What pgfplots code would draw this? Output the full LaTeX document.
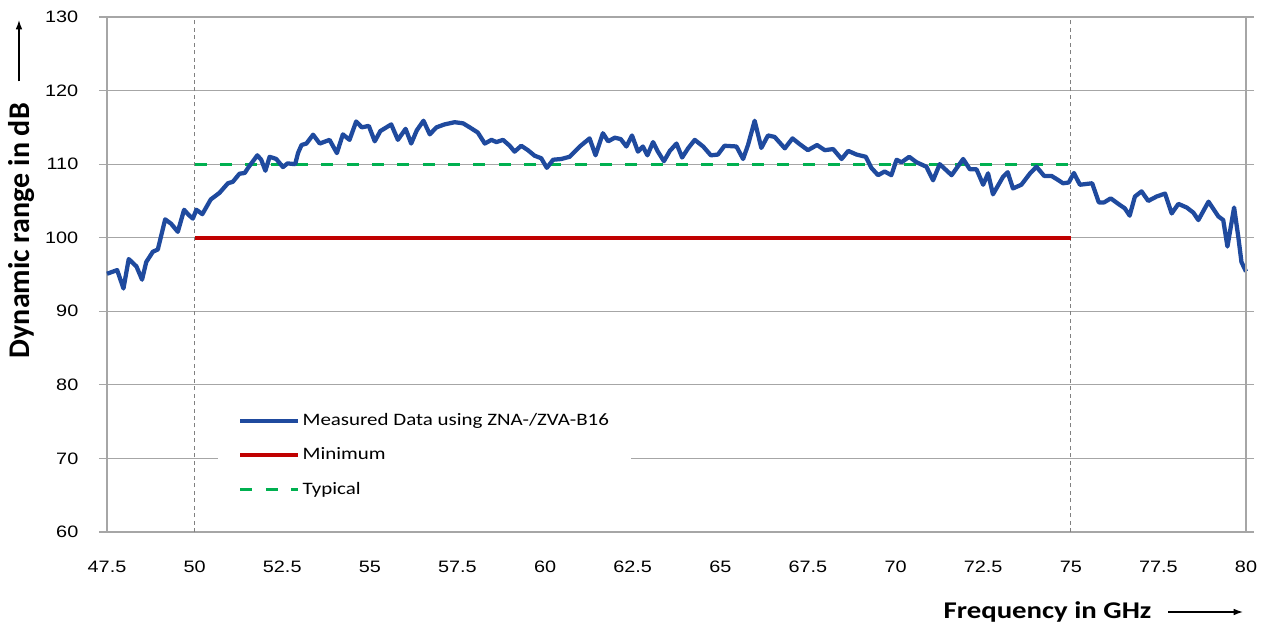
\documentclass[border=0pt]{standalone}
\usepackage{fontspec}
\setmainfont{Liberation Sans}[FakeStretch=1.2]
\newfontfamily\calibri{Carlito}[FakeStretch=1.2]
\newfontfamily\calibriv{Carlito}
\usepackage{pgfplots}
\pgfplotsset{compat=1.18}
\usetikzlibrary{arrows.meta}

\definecolor{measblue}{RGB}{31,74,158}
\definecolor{minred}{RGB}{192,0,0}
\definecolor{typgreen}{RGB}{0,176,80}
\definecolor{gridgray}{RGB}{166,166,166}
\definecolor{markgray}{RGB}{128,128,128}

\begin{document}
\begin{tikzpicture}
  % frame of the whole picture: 1px = 0.75pt, axis box at (107..1246, 17..532)
  \useasboundingbox (-80.25pt,-75pt) rectangle (869.25pt,399pt);
  \begin{axis}[
      scale only axis,
      width=854.25pt,
      height=386.25pt,
      xmin=47.5, xmax=80,
      ymin=60, ymax=130,
      xtick={47.5,50,52.5,55,57.5,60,62.5,65,67.5,70,72.5,75,77.5,80},
      ytick={60,70,80,90,100,110,120,130},
      /pgf/number format/assume math mode=true,
      ticklabel style={font=\fontsize{12.4}{14}\selectfont, text=black},
      xticklabel style={yshift=-12pt},
      yticklabel style={xshift=-12pt},
      tick align=outside,
      major tick length=6pt,
      tick style={gridgray, line width=0.9pt},
      xtick style={draw=none},
      axis line style={gridgray, line width=1pt},
      ymajorgrids,
      grid style={gridgray, line width=0.9pt},
      clip=false,
      legend style={at={(axis description cs:0.0975,0.042)}, anchor=south west,
        draw=none, fill=white, inner xsep=15pt, inner ysep=9pt,
        row sep=12pt, font=\calibri\fontsize{13.1}{15}\selectfont,
        nodes={inner sep=1.5pt}},
      legend cell align=left,
      legend image code/.code={\draw[#1] (0pt,0pt) -- (43.5pt,0pt);},
    ]
    \addlegendimage{measblue, line width=3.2pt}
    \addlegendentry{Measured Data using ZNA-/ZVA-B16}

    % band edges
    \addplot[markgray, line width=0.8pt, dash pattern=on 3pt off 2.6pt, forget plot]
      coordinates {(50,60) (50,130)};
    \addplot[markgray, line width=0.8pt, dash pattern=on 3pt off 2.6pt, forget plot]
      coordinates {(75,60) (75,130)};

    \addplot[minred, line width=3.2pt] coordinates {(50,100) (75,100)};
    \addlegendentry{Minimum}

    \addplot[typgreen, line width=2.25pt, dash pattern=on 9pt off 10pt]
      coordinates {(50,110) (75,110)};
    \addlegendentry{Typical}

    \addplot[measblue, line width=3.2pt, line join=round, forget plot] coordinates {
      (47.50,95.1) (47.79,95.6) (47.97,93.1) (48.12,97.1) (48.34,96.1)
      (48.50,94.3) (48.62,96.7) (48.81,98.1) (48.95,98.4) (49.16,102.5)
      (49.33,101.9) (49.52,100.8) (49.70,103.8) (49.83,103.1) (49.95,102.6)
      (50.05,103.8) (50.22,103.2) (50.46,105.2) (50.71,106.1) (50.95,107.4)
      (51.09,107.6) (51.28,108.7) (51.43,108.8) (51.54,109.6) (51.79,111.2)
      (51.90,110.6) (52.02,109.1) (52.14,111.0) (52.33,110.7) (52.52,109.6)
      (52.65,110.1) (52.87,110.0) (52.95,111.5) (53.05,112.6) (53.19,112.8)
      (53.38,114.0) (53.57,112.8) (53.85,113.3) (54.06,111.5) (54.23,114.05)
      (54.42,113.3) (54.61,115.8) (54.77,115.0) (54.97,115.2) (55.14,113.1)
      (55.30,114.5) (55.61,115.4) (55.80,113.3) (56.02,114.8) (56.18,112.8)
      (56.34,114.6) (56.53,115.9) (56.71,114.05) (56.90,115.0) (57.13,115.4)
      (57.42,115.7) (57.66,115.55) (57.85,115.0) (58.08,114.3) (58.28,112.8)
      (58.47,113.3) (58.61,113.0) (58.80,113.3) (58.99,112.5) (59.13,111.7)
      (59.32,112.5) (59.51,111.9) (59.70,111.15) (59.89,110.8) (60.05,109.5)
      (60.23,110.6) (60.46,110.7) (60.70,111.0) (60.99,112.4) (61.27,113.5)
      (61.44,111.2) (61.65,114.2) (61.80,113.1) (61.99,113.6) (62.16,113.4)
      (62.32,112.4) (62.48,113.9) (62.65,111.7) (62.79,112.4) (62.92,111.2)
      (63.08,113.0) (63.22,111.7) (63.39,110.4) (63.56,111.8) (63.75,112.8)
      (63.91,110.9) (64.08,112.15) (64.27,113.3) (64.51,112.4) (64.73,111.2)
      (64.93,111.3) (65.12,112.5) (65.46,112.4) (65.65,110.7) (65.79,112.6)
      (65.98,115.9) (66.17,112.2) (66.36,113.9) (66.55,113.7) (66.84,112.15)
      (67.06,113.5) (67.27,112.7) (67.50,111.9) (67.76,112.6) (67.98,111.9)
      (68.22,112.05) (68.46,110.7) (68.65,111.8) (68.89,111.3) (69.15,111.0)
      (69.31,109.5) (69.50,108.5) (69.69,109.0) (69.88,108.5) (70.03,110.6)
      (70.17,110.25) (70.39,111.0) (70.60,110.25) (70.88,109.65) (71.07,107.8)
      (71.26,110.0) (71.60,108.5) (71.93,110.7) (72.12,109.3) (72.31,109.3)
      (72.50,107.2) (72.64,108.75) (72.78,105.9) (73.07,108.3) (73.20,108.9)
      (73.35,106.7) (73.59,107.2) (73.83,108.7) (74.02,109.65) (74.24,108.4)
      (74.45,108.4) (74.62,107.9) (74.78,107.4) (74.94,107.5) (75.09,108.8)
      (75.26,107.2) (75.61,107.4) (75.80,104.8) (75.95,104.8) (76.14,105.35)
      (76.40,104.45) (76.54,104.0) (76.68,103.0) (76.83,105.6) (77.02,106.3)
      (77.21,105.0) (77.45,105.6) (77.69,106.0) (77.88,103.3) (78.07,104.6)
      (78.31,104.1) (78.50,103.4) (78.64,102.4) (78.93,104.9) (79.21,102.9)
      (79.35,102.4) (79.47,98.8) (79.66,104.1) (79.78,100.1) (79.87,96.7)
      (80.00,95.4)
    };

    % right edge of the plot area
    \draw[gridgray, line width=1pt] (rel axis cs:1,0) -- (rel axis cs:1,1);
  \end{axis}

  % axis titles with their arrows
  \node[rotate=90, font=\calibriv\bfseries\fontsize{22.5}{26}\selectfont]
    at (-63.75pt,226pt) {Dynamic range in dB};
  \draw[line width=1pt, -{Latex[length=7pt,width=5pt]}] (-66pt,338pt) -- (-66pt,384pt);
  \node[font=\calibri\bfseries\fontsize{18}{20}\selectfont]
    at (705.4pt,-60pt) {Frequency in GHz};
  \draw[line width=1pt, -{Latex[length=7pt,width=5pt]}] (795.75pt,-60pt) -- (852pt,-60pt);
\end{tikzpicture}
\end{document}
